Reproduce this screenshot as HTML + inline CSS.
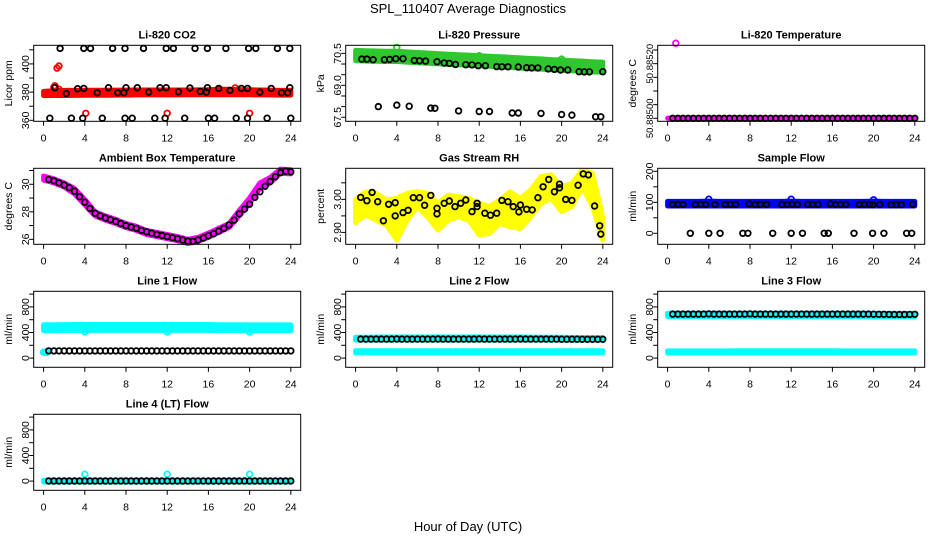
<!DOCTYPE html>
<html><head><meta charset="utf-8"><title>SPL_110407 Average Diagnostics</title>
<style>
html,body{margin:0;padding:0;background:#fff;}
svg{display:block;font-family:"Liberation Sans",Arial,sans-serif;}
</style></head>
<body>
<svg id="chart" width="936" height="540" viewBox="0 0 936 540" xmlns="http://www.w3.org/2000/svg">
<rect x="0" y="0" width="936" height="540" fill="#fff"/>
<text x="468" y="13" text-anchor="middle" font-size="13" fill="#000">SPL_110407  Average Diagnostics</text>
<text x="468" y="531" text-anchor="middle" font-size="13" fill="#000">Hour of Day (UTC)</text>
</svg>
<script>
// ---------- shared data ----------
const xTicks = [0, 4, 8, 12, 16, 20, 24];
const halfHours = [0.5,1,1.5,2,2.5,3,3.5,4,4.5,5,5.5,6,6.5,7,7.5,8,8.5,9,9.5,10,10.5,11,11.5,12,12.5,13,13.5,14,14.5,15,15.5,16,16.5,17,17.5,18,18.5,19,19.5,20,20.5,21,21.5,22,22.5,23,23.5,24];
const bandHours = [0,1,2,3,4,5,6,7,8,9,10,11,12,13,14,15,16,17,18,19,20,21,22,23,24];

// CO2
const co2BandLo = [377.5,377.6,377.6,377.7,377.8,377.8,377.8,377.9,377.9,378,378,378,378,378,378.1,378.1,378.1,378.2,378.2,378.1,378.1,378,378,377.9,377.9];
const co2BandHi = [380.5,381,381.2,381.2,381.3,381.3,381.3,381.4,381.4,381.5,381.5,381.5,381.5,381.5,381.5,381.6,381.7,382,382,381.8,381.7,381.5,381.4,381.2,381.2];
const co2RedHours = [1.0,1.1,1.5,1.3,1.5,4.1,12.0,20.0,18.6,17.1];
const co2RedVals = [383.5,384.5,382,397,398.5,365,365,365,383,382];
const co2BlackHours = [1.6,3.9,4.55,6.7,7.9,9.7,11.9,12.6,14.7,15.9,17.7,19.9,20.6,22.7,23.9, 0.6,2.7,3.8,5.7,7.9,8.6,10.8,11.8,13.7,16.0,16.6,18.7,19.8,21.7,24.0, 1.1,2.2,3.3,3.9,5.2,6.3,7.2,7.8,8.0,9.1,10.2,11.3,11.9,13.1,14.2,15.2,15.8,15.9,17.0,18.1,19.2,19.8,21.0,22.1,23.1,23.9,23.7];
const co2BlackVals = [411,411,411,411,411,411,411,411,411,411,411,411,411,411,411, 361.5,361.5,361.5,361.5,361.5,361.5,361.5,361.5,361.5,361.5,361.5,361.5,361.5,361.5,361.5, 383.1,379,382.4,382.6,379.5,383.1,379.5,379.5,383.1,383.1,380,383.1,383.1,380.2,382.9,380.5,380,383.1,382.6,381.2,382.6,382.6,380,382.6,379.5,383.1,379.5];

// Pressure
const presBandLo = [70.16,70.14,70.13,70.12,70.12,70.09,70.06,70.04,70.01,69.98,69.96,69.94,69.91,69.89,69.86,69.84,69.81,69.78,69.76,69.73,69.71,69.68,69.66,69.63,69.61];
const presBandHi = [70.64,70.62,70.61,70.6,70.6,70.57,70.54,70.52,70.49,70.46,70.44,70.42,70.39,70.37,70.34,70.32,70.29,70.26,70.24,70.21,70.19,70.16,70.14,70.11,70.09];
const presGreenHours = [4, 12, 20];
const presGreenVals = [70.78, 70.39, 70.23];
const presBlackHours = [0.6,1.1,1.7,2.8,3.3,3.9,4.6,5.7,6.2,6.8,7.9,8.6,9.1,9.7,10.7,11.3,11.9,12.6,13.7,14.2,14.8,15.8,16.6,17.1,17.7,18.7,19.3,19.9,20.6,21.7,22.2,22.7,24.0, 2.2,4.0,5.2,7.3,7.7,10.0,12.0,13.0,15.2,15.8,18.0,20.0,21.0,23.3,23.8];
const presBlackVals = [70.23,70.23,70.2,70.2,70.22,70.25,70.25,70.17,70.15,70.14,70.11,70.05,70.03,69.98,69.97,69.96,69.92,69.92,69.88,69.87,69.87,69.86,69.83,69.82,69.82,69.77,69.75,69.72,69.72,69.64,69.63,69.63,69.64, 68.0,68.07,68.02,67.93,67.92,67.8,67.77,67.77,67.7,67.7,67.68,67.63,67.6,67.52,67.52];

// Li-820 temperature
const tempBandLo = [50.885,50.885,50.885,50.885,50.885,50.885,50.885,50.885,50.885,50.885,50.885,50.885,50.885,50.885,50.885,50.885,50.885,50.885,50.885,50.885,50.885,50.885,50.885,50.885,50.885];
const tempBandHi = [50.885,50.885,50.885,50.885,50.885,50.885,50.885,50.885,50.885,50.885,50.885,50.885,50.885,50.885,50.885,50.885,50.885,50.885,50.885,50.885,50.885,50.885,50.885,50.885,50.885];
const tempMagHours = [0.8];
const tempMagVals = [50.88522];
const tempBlackVals = [50.885,50.885,50.885,50.885,50.885,50.885,50.885,50.885,50.885,50.885,50.885,50.885,50.885,50.885,50.885,50.885,50.885,50.885,50.885,50.885,50.885,50.885,50.885,50.885,50.885,50.885,50.885,50.885,50.885,50.885,50.885,50.885,50.885,50.885,50.885,50.885,50.885,50.885,50.885,50.885,50.885,50.885,50.885,50.885,50.885,50.885,50.885,50.885];

// Ambient box temperature
const ambBandLo = [30.3,30.1,29.8,29.3,28.5,27.7,27.4,27.15,26.85,26.65,26.35,26.2,26.05,25.9,25.7,25.85,26.15,26.5,26.85,27.7,28.6,29.7,30.1,30.8,30.75];
const ambBandHi = [30.6,30.4,30.1,29.7,28.9,28.0,27.7,27.45,27.15,26.95,26.65,26.5,26.35,26.2,26.0,26.15,26.45,26.8,27.15,28.1,29.0,30.1,30.5,31.1,31.05];
const ambBlackVals = [30.35,30.25,30.1,29.95,29.75,29.5,29.1,28.7,28.25,27.9,27.7,27.55,27.42,27.3,27.15,27.0,26.9,26.8,26.65,26.55,26.45,26.35,26.28,26.2,26.12,26.05,25.95,25.87,25.85,25.95,26.1,26.25,26.4,26.6,26.8,27.05,27.4,27.85,28.2,28.55,29.05,29.45,29.85,30.2,30.55,30.85,30.95,30.9];

// Gas stream RH
const rhBandLo = [2.93,2.953,2.937,2.922,2.877,2.937,2.978,2.947,2.907,2.937,2.947,2.937,2.892,2.897,2.927,2.917,2.912,2.947,2.988,3.003,2.963,2.978,3.038,2.978,2.877];
const rhBandHi = [3.0,3.023,3.018,2.998,3.003,3.018,3.023,3.018,2.988,3.013,3.008,3.003,2.988,2.978,2.998,3.023,3.003,3.028,3.069,3.074,3.038,3.048,3.089,3.079,2.947];
const rhBlackHours = [0.5,1.1,1.6,2.15,2.7,3.2,3.85,3.85,4.6,5.1,5.6,6.2,6.7,7.3,7.9,7.9,8.6,9.1,9.65,10.2,10.7,11.3,11.8,11.8,12.55,13.1,13.7,14.2,14.8,15.3,15.85,16.0,16.6,17.15,17.7,18.2,18.75,19.3,19.8,19.8,20.4,21.0,21.6,22.1,22.6,23.2,23.7,23.8];
const rhBlackVals = [3.006,2.996,3.021,2.993,2.935,2.985,2.99,2.95,2.96,2.967,3.005,3.005,2.982,3.012,2.973,2.956,2.988,2.995,2.978,2.988,2.998,2.963,2.988,2.978,2.958,2.952,2.958,2.997,2.993,2.978,2.962,2.983,2.97,2.968,3.005,3.038,3.06,3.023,3.046,3.035,3.0,2.997,3.043,3.077,3.074,2.98,2.92,2.895];

// Sample flow
const sfBandLo = [88,88,88,88,88,88,88,88,88,88,88,88,88,88,88,88,88,88,88,88,88,88,88,88,88];
const sfBandHi = [103,103,103,103,104,103,103,103,103,103,103,103,104,103,103,103,103,103,103,103,104,103,103,103,103];
const sfBlueHours = [4, 12, 20];
const sfBlueVals = [110, 110, 108];
const sfBlackHours = [0.5,1.0,1.5,2.7,3.2,3.7,4.6,5.6,6.1,6.6,7.9,8.5,9.0,9.6,11.1,11.6,12.1,12.6,13.6,14.1,14.6,15.8,16.3,16.8,17.3,18.6,19.1,19.6,19.9,20.6,21.7,22.2,22.7,23.8, 2.2,4.0,5.1,7.3,7.8,10.2,12.0,13.1,15.2,15.6,18.1,19.9,21.0,23.2,23.7];
const sfBlackVals = [93,93,93,93,93,93,93,93,93,93,95,93,93,93,93,93,94,93,93,93,93,95,93,93,93,93,93,93,92,93,92,92,92,94, 0,0,0,0,0,0,0,0,0,0,0,0,0,0,0];

// Line flows (ml/min)
const l1BandLo = [430,432,432,432,432,433,433,433,433,433,433,433,433,433,433,433,433,432,432,432,430,430,430,430,430];
const l1BandHi = [520,522,523,525,525,525,525,525,525,525,525,525,525,525,525,525,525,522,520,520,518,518,518,518,518];
const l1CyanHours = [0, 0.15, 0.3, 4, 12, 20];
const l1CyanVals = [92, 92, 92, 410, 410, 410];
const l1BlackVals = [112,112,112,112,112,112,112,113,112,112,112,112,112,112,112,113,112,112,112,112,112,112,112,113,112,112,112,112,112,112,112,113,112,112,112,112,112,112,112,113,112,112,112,112,112,112,112,113];
const l2BandLo = [282,282,282,282,282,282,282,282,282,282,282,282,282,282,282,282,282,282,282,282,282,282,282,282,282];
const l2BandHi = [325,325,328,330,330,330,330,330,330,330,330,330,330,330,330,330,330,328,326,325,325,322,322,322,322];
const l2LowLo = [82,82,82,82,82,82,82,82,82,82,82,82,82,82,82,82,82,82,82,82,82,82,82,82,82];
const l2LowHi = [115,115,115,115,115,115,115,115,115,115,115,115,115,115,115,115,115,115,115,115,115,115,115,115,115];
const l2BlackVals = [297,297,297,297,297,297,297,298,297,297,297,297,297,297,297,298,297,297,297,297,297,297,297,298,297,297,297,297,297,297,297,298,297,297,297,297,297,297,297,296,295,295,295,294,294,293,293,293];
const l3BandLo = [650,650,650,650,645,650,650,650,650,650,650,650,645,650,650,650,650,650,650,650,640,645,645,645,645];
const l3BandHi = [700,700,700,700,700,700,700,700,700,700,700,700,700,700,700,700,700,700,700,700,695,695,695,695,695];
const l3LowLo = [82,82,82,82,82,82,82,82,82,82,82,82,82,82,82,82,82,82,82,82,82,82,82,82,82];
const l3LowHi = [112,112,112,112,112,112,112,115,115,115,115,115,115,115,115,115,115,112,112,112,112,112,112,112,112];
const l3BlackVals = [687,687,687,687,687,687,687,690,687,687,687,687,687,687,687,690,687,687,687,687,687,687,687,688,687,687,687,687,687,687,687,687,687,687,687,687,687,687,687,686,684,684,683,682,682,682,683,684];
const l4BandLo = [-12,-12,-12,-12,-12,-12,-12,-12,-12,-12,-12,-12,-12,-12,-12,-12,-12,-12,-12,-12,-12,-12,-12,-12,-12];
const l4BandHi = [14,14,14,14,14,14,14,14,14,14,14,14,14,14,14,14,14,14,14,14,14,14,14,14,14];
const l4CyanHours = [4, 12, 20];
const l4CyanVals = [108, 108, 108];
const l4BlackVals = [2,2,2,2,2,2,2,2,2,2,2,2,2,2,2,2,2,2,2,2,2,2,2,2,2,2,2,2,2,2,2,2,2,2,2,2,2,2,2,2,2,2,2,2,2,2,2,2];

// axis definitions
const flowTicks = [0,200,400,600,800,1000];
const flowLabels = ['0',null,'400',null,'800',null];
const co2Ticks = [360,370,380,390,400,410];
const co2Labels = ['360',null,'380',null,'400',null];
const presTicks = [67.5,68,68.5,69,69.5,70,70.5];
const presLabels = ['67.5',null,null,'69.0',null,null,'70.5'];
const tempTicks = [50.885,50.88504,50.88508,50.88512,50.88516,50.8852];
const tempLabels = ['50.88500',null,null,null,'50.88520',null];
const ambTicks = [26,27,28,29,30,31];
const ambLabels = ['26',null,'28',null,'30',null];
const rhTicks = [2.90,2.95,3.00,3.05];
const rhLabels = ['2.90',null,'3.00',null];
const sfTicks = [0,50,100,150,200];
const sfLabels = ['0',null,'100',null,'200'];

// ---------- drawing ----------
const NS = 'http://www.w3.org/2000/svg';
const svg = document.getElementById('chart');
const colLeft = [33.7, 345.7, 657.7];
const rowTop = [45.3, 168.3, 291.3, 414.3];
const PW = 267, PH = 76;
const XLO = -0.96, XHI = 24.96;

function mk(tag, parent) { const e = document.createElementNS(NS, tag); parent.appendChild(e); return e; }

function panel(key, title, ylabel, col, row, ylim, ticks, labels, labelSize) {
  const L = colLeft[col], T = rowTop[row];
  const g = mk('g', svg);
  
  
  const xs = h => L + (h - XLO) / (XHI - XLO) * PW;
  const ys = v => T + PH - (v - ylim[0]) / (ylim[1] - ylim[0]) * PH;
  const plot = mk('g', g);
  
  
  const axes = mk('g', g);
  
  
  const box = mk('rect', axes);
  box.setAttribute('x', L); box.setAttribute('y', T); box.setAttribute('width', PW); box.setAttribute('height', PH);
  box.setAttribute('fill', 'none'); box.setAttribute('stroke', '#000'); box.setAttribute('stroke-width', '1');
  
  
  const t = mk('text', axes);
  t.textContent = title;
  t.setAttribute('x', L + PW / 2); t.setAttribute('y', T - 7);
  t.setAttribute('text-anchor', 'middle'); t.setAttribute('font-size', '11'); t.setAttribute('font-weight', 'bold');
  
  
  const yl = mk('text', axes);
  yl.textContent = ylabel;
  yl.setAttribute('transform', 'translate(' + (L - 21.5) + ',' + (T + PH / 2) + ') rotate(-90)');
  yl.setAttribute('text-anchor', 'middle'); yl.setAttribute('font-size', '10.5');
  
  
  xTicks.forEach(h => {
    const x = xs(h);
    const ln = mk('line', axes);
    ln.setAttribute('x1', x); ln.setAttribute('x2', x); ln.setAttribute('y1', T + PH); ln.setAttribute('y2', T + PH + 4.5);
    ln.setAttribute('stroke', '#000');
    
    
    const tx = mk('text', axes);
    tx.textContent = String(h);
    tx.setAttribute('x', x); tx.setAttribute('y', T + PH + 20);
    tx.setAttribute('text-anchor', 'middle'); tx.setAttribute('font-size', '10.5');
    
    
  });
  ticks.forEach((v, i) => {
    const y = ys(v);
    const ln = mk('line', axes);
    ln.setAttribute('x1', L - 4.5); ln.setAttribute('x2', L); ln.setAttribute('y1', y); ln.setAttribute('y2', y);
    ln.setAttribute('stroke', '#000');
    
    
    if (labels[i] !== null) {
      const tx = mk('text', axes);
      tx.textContent = labels[i];
      tx.setAttribute('transform', 'translate(' + (L - 4.5) + ',' + y + ') rotate(-90)');
      tx.setAttribute('text-anchor', 'middle'); tx.setAttribute('font-size', labelSize || '10.5');
      
      
    }
  });
  return { plot, xs, ys, key };
}

function band(p, hours, lo, hi, color, name) {
  const pts = [];
  hours.forEach((h, i) => pts.push(p.xs(h).toFixed(1) + ',' + p.ys(hi[i]).toFixed(1)));
  for (let i = hours.length - 1; i >= 0; i--) pts.push(p.xs(hours[i]).toFixed(1) + ',' + p.ys(lo[i]).toFixed(1));
  const pg = mk('polygon', p.plot);
  pg.setAttribute('points', pts.join(' '));
  pg.setAttribute('fill', color); pg.setAttribute('stroke', color);
  pg.setAttribute('stroke-width', '5'); pg.setAttribute('stroke-linejoin', 'round');
  
  
}

function points(p, hours, vals, color, name) {
  hours.forEach((h, i) => {
    const c = mk('circle', p.plot);
    c.setAttribute('cx', p.xs(h).toFixed(1)); c.setAttribute('cy', p.ys(vals[i]).toFixed(1));
    c.setAttribute('r', '2.8'); c.setAttribute('fill', 'none');
    c.setAttribute('stroke', color); c.setAttribute('stroke-width', '1.8');
    
    
  });
}

const RED = '#ff0000', GREEN = '#2ec82e', MAG = '#ff00ff', YEL = '#ffff00', BLUE = '#0000ff', CYAN = '#00ffff', BLK = '#000';

// Row 1
let p = panel('co2', 'Li-820 CO2', 'Licor ppm', 0, 0, [359.3, 413.2], co2Ticks, co2Labels);
band(p, bandHours, co2BandLo, co2BandHi, RED, 'red-band');
points(p, co2RedHours, co2RedVals, RED, 'red-point');
points(p, co2BlackHours, co2BlackVals, BLK, 'mean-point');

p = panel('pressure', 'Li-820 Pressure', 'kPa', 1, 0, [67.31, 70.88], presTicks, presLabels);
band(p, bandHours, presBandLo, presBandHi, GREEN, 'green-band');
points(p, presGreenHours, presGreenVals, GREEN, 'green-point');
points(p, presBlackHours, presBlackVals, BLK, 'mean-point');

p = panel('licor-temp', 'Li-820 Temperature', 'degrees C', 2, 0, [50.8849912, 50.8852138], tempTicks, tempLabels, '9.5');
band(p, bandHours, tempBandLo, tempBandHi, MAG, 'magenta-band');
points(p, tempMagHours, tempMagVals, MAG, 'magenta-point');
points(p, halfHours, tempBlackVals, BLK, 'mean-point');

// Row 2
p = panel('ambient', 'Ambient Box Temperature', 'degrees C', 0, 1, [25.64, 31.16], ambTicks, ambLabels);
band(p, bandHours, ambBandLo, ambBandHi, MAG, 'magenta-band');
points(p, halfHours, ambBlackVals, BLK, 'mean-point');

p = panel('rh', 'Gas Stream RH', 'percent', 1, 1, [2.864, 3.094], rhTicks, rhLabels);
band(p, bandHours, rhBandLo, rhBandHi, YEL, 'yellow-band');
points(p, rhBlackHours, rhBlackVals, BLK, 'mean-point');

p = panel('sample-flow', 'Sample Flow', 'ml/min', 2, 1, [-35.5, 209.7], sfTicks, sfLabels);
band(p, bandHours, sfBandLo, sfBandHi, BLUE, 'blue-band');
points(p, sfBlueHours, sfBlueVals, BLUE, 'blue-point');
points(p, sfBlackHours, sfBlackVals, BLK, 'mean-point');

// Row 3
p = panel('line1', 'Line 1 Flow', 'ml/min', 0, 2, [-144, 1044], flowTicks, flowLabels);
band(p, bandHours, l1BandLo, l1BandHi, CYAN, 'cyan-band');
points(p, l1CyanHours, l1CyanVals, CYAN, 'cyan-point');
points(p, halfHours, l1BlackVals, BLK, 'mean-point');

p = panel('line2', 'Line 2 Flow', 'ml/min', 1, 2, [-144, 1044], flowTicks, flowLabels);
band(p, bandHours, l2BandLo, l2BandHi, CYAN, 'cyan-band-upper');
band(p, bandHours, l2LowLo, l2LowHi, CYAN, 'cyan-band-lower');
points(p, halfHours, l2BlackVals, BLK, 'mean-point');

p = panel('line3', 'Line 3 Flow', 'ml/min', 2, 2, [-144, 1044], flowTicks, flowLabels);
band(p, bandHours, l3BandLo, l3BandHi, CYAN, 'cyan-band-upper');
band(p, bandHours, l3LowLo, l3LowHi, CYAN, 'cyan-band-lower');
points(p, halfHours, l3BlackVals, BLK, 'mean-point');

// Row 4
p = panel('line4', 'Line 4 (LT) Flow', 'ml/min', 0, 3, [-144, 1044], flowTicks, flowLabels);
band(p, bandHours, l4BandLo, l4BandHi, CYAN, 'cyan-band');
points(p, l4CyanHours, l4CyanVals, CYAN, 'cyan-point');
points(p, halfHours, l4BlackVals, BLK, 'mean-point');
</script>
</body></html>
